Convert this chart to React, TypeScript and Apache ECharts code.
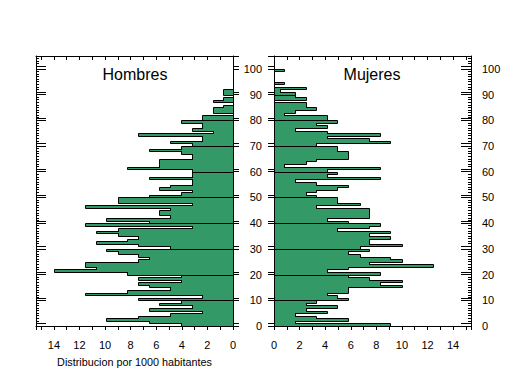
import React, { useEffect, useRef } from 'react';
import * as echarts from 'echarts';

// Edades 0..100
const edades: number[] = [
  0, 1, 2, 3, 4, 5, 6, 7, 8, 9,
  10, 11, 12, 13, 14, 15, 16, 17, 18, 19,
  20, 21, 22, 23, 24, 25, 26, 27, 28, 29,
  30, 31, 32, 33, 34, 35, 36, 37, 38, 39,
  40, 41, 42, 43, 44, 45, 46, 47, 48, 49,
  50, 51, 52, 53, 54, 55, 56, 57, 58, 59,
  60, 61, 62, 63, 64, 65, 66, 67, 68, 69,
  70, 71, 72, 73, 74, 75, 76, 77, 78, 79,
  80, 81, 82, 83, 84, 85, 86, 87, 88, 89,
  90, 91, 92, 93, 94, 95, 96, 97, 98, 99,
  100,
];

// Distribucion por 1000 habitantes - Hombres (por edad)
const hombres: number[] = [
  4.1, 6.6, 9.9, 7.4, 4.9, 2.4, 6.6, 3.2, 5.75, 4.1,
  7.4, 2.4, 11.6, 8.25, 4.9, 6.6, 7.4, 4.1, 7.4, 4.1,
  8.25, 14.0, 10.7, 11.6, 11.6, 7.4, 6.6, 7.4, 9.0, 9.9,
  4.9, 7.4, 10.7, 8.25, 7.4, 9.0, 10.7, 9.0, 3.2, 11.6,
  6.6, 9.9, 4.9, 5.75, 5.75, 4.9, 11.6, 3.2, 9.0, 9.0,
  6.6, 4.1, 3.2, 5.75, 4.9, 3.2, 3.2, 6.6, 3.2, 3.2,
  3.2, 8.25, 5.75, 5.75, 5.75, 3.2, 3.2, 4.1, 6.6, 4.1,
  3.2, 4.9, 2.4, 2.4, 7.4, 1.6, 3.2, 2.4, 2.4, 4.1,
  2.4, 2.4, 0, 1.6, 1.6, 0.75, 0, 1.6, 0.75, 0,
  0.75, 0.75, 0, 0, 0, 0, 0, 0, 0, 0,
  0,
];

// Distribucion por 1000 habitantes - Mujeres (por edad)
const mujeres: number[] = [
  9.1, 1.64, 5.8, 3.3, 1.64, 4.17, 2.47, 4.95, 2.47, 3.3,
  5.8, 4.95, 4.17, 5.8, 5.8, 10.0, 8.3, 10.0, 7.4, 5.8,
  8.3, 4.17, 5.8, 12.45, 7.4, 10.0, 9.1, 6.7, 5.8, 7.4,
  6.7, 10.0, 7.4, 7.4, 9.1, 7.4, 9.1, 4.95, 7.4, 8.3,
  5.8, 4.17, 7.4, 7.4, 7.4, 7.4, 3.3, 6.7, 4.95, 4.95,
  3.3, 2.47, 3.3, 4.95, 5.8, 3.3, 1.64, 8.3, 4.17, 4.95,
  4.17, 8.3, 0.8, 2.47, 3.3, 5.8, 5.8, 5.8, 4.95, 4.95,
  3.3, 9.1, 7.4, 4.17, 8.3, 4.17, 1.64, 4.17, 3.3, 4.95,
  4.17, 4.17, 0.8, 1.64, 3.3, 2.47, 2.47, 0, 2.47, 1.64,
  1.64, 0.5, 2.47, 0, 0.8, 0, 0, 0, 0, 0.8,
  0,
];

// Marcas decenales del eje de edad
const decadas: number[] = [0, 10, 20, 30, 40, 50, 60, 70, 80, 90, 100];

const titulos = ['Hombres', 'Mujeres'];
const nombreEje = 'Distribucion por 1000 habitantes';

const GREEN = '#339966';
const FONT = '"Liberation Sans", Arial, Helvetica, sans-serif';

const XMAX = 15.4;
const YMAX = 105;

function barRender(params: any, api: any) {
  const a = api.value(0);
  const v = api.value(1);
  if (!v) return null;
  const p0 = api.coord([0, a]);
  const p1 = api.coord([v, a + 1]);
  const L = Math.round(Math.min(p0[0], p1[0]));
  const R = Math.round(Math.max(p0[0], p1[0]));
  const T = Math.round(Math.min(p0[1], p1[1]));
  const B = Math.round(Math.max(p0[1], p1[1]));
  return {
    type: 'rect',
    shape: { x: L + 0.5, y: T + 0.5, width: R - L, height: B - T },
    style: { fill: GREEN, stroke: '#000', lineWidth: 1 },
  };
}

function coverRender(params: any, api: any) {
  const a = api.value(0);
  const v = api.value(1);
  if (!v) return null;
  const p0 = api.coord([0, a + 0.5]);
  const p1 = api.coord([v, a + 1.5]);
  const L = Math.round(Math.min(p0[0], p1[0]));
  const R = Math.round(Math.max(p0[0], p1[0]));
  const T = Math.round(Math.min(p0[1], p1[1]));
  const B = Math.round(Math.max(p0[1], p1[1]));
  if (R - L - 1 <= 0) return null;
  return {
    type: 'rect',
    shape: { x: L + 1, y: T, width: R - L - 1, height: B - T },
    style: { fill: GREEN },
  };
}

function makeTickRender(leftLen: number, rightLen: number) {
  // leftLen: signed length from the left edge (positive = inward), rightLen: signed from right edge (positive = outward)
  return (params: any, api: any) => {
    const d = api.value(0);
    const pa = api.coord([0, d + 1]);
    const pb = api.coord([XMAX, d + 1]);
    const xl = Math.round(Math.min(pa[0], pb[0]));
    const xr = Math.round(Math.max(pa[0], pb[0]));
    const y = Math.round(pa[1]) + 0.5;
    const style = { stroke: '#000', lineWidth: 1 };
    return {
      type: 'group',
      children: [
        { type: 'line', shape: { x1: xl, y1: y, x2: xl + leftLen, y2: y }, style },
        { type: 'line', shape: { x1: xr, y1: y, x2: xr + rightLen, y2: y }, style },
      ],
    };
  };
}

function covers(values: number[]) {
  const out: number[][] = [];
  for (let i = 0; i < values.length - 1; i++) {
    if ((edades[i] + 1) % 10 === 0) continue;
    out.push([edades[i], Math.min(values[i], values[i + 1])]);
  }
  return out;
}

function xAxisBase(grid: number, inverse: boolean, top: boolean, extra: any = {}) {
  return {
    type: 'value',
    gridIndex: grid,
    position: top ? 'top' : 'bottom',
    min: 0,
    max: XMAX,
    interval: 1,
    inverse,
    axisLine: { show: true, onZero: false, lineStyle: { color: '#000', width: 1 } },
    axisTick: { show: true, inside: top, length: 4, lineStyle: { color: '#000' } },
    axisLabel: top
      ? { show: false }
      : {
          show: true,
          color: '#000',
          fontSize: 11,
          fontFamily: FONT,
          margin: 13,
          formatter: (val: number) => (val % 2 === 0 ? String(val) : ''),
        },
    splitLine: { show: false },
    ...extra,
  };
}

function yAxisBase(grid: number, pos: 'left' | 'right', interval: number, inside: boolean, length: number, labels: boolean, line: boolean, margin = 12) {
  return {
    type: 'value',
    gridIndex: grid,
    position: pos,
    min: 0,
    max: YMAX,
    interval,
    axisLine: { show: line, onZero: false, lineStyle: { color: '#000', width: 1 } },
    axisTick: { show: true, inside, length, lineStyle: { color: '#000' } },
    axisLabel: labels
      ? {
          show: true,
          color: '#000',
          fontSize: 11,
          fontFamily: FONT,
          margin,
          formatter: (val: number) => (val % 10 === 0 && val <= 100 ? String(val) : ''),
        }
      : { show: false },
    splitLine: { show: false },
  };
}

export default function App() {
  const ref = useRef<HTMLDivElement>(null);
  useEffect(() => {
    if (!ref.current) return;
    const chart = echarts.init(ref.current, undefined, { renderer: 'svg' });
    const option: any = {
      animation: false,
      backgroundColor: '#fff',
      grid: [
        { left: 36, top: 56, width: 197, height: 270 },
        { left: 274, top: 56, width: 197, height: 270 },
      ],
      xAxis: [
        xAxisBase(0, true, false, {
          name: nombreEje,
          nameLocation: 'middle',
          nameGap: 30,
          nameTextStyle: { color: '#000', fontSize: 10.8, fontFamily: FONT },
        }),
        xAxisBase(0, true, true),
        xAxisBase(1, false, false),
        xAxisBase(1, false, true),
      ],
      yAxis: [
        yAxisBase(0, 'left', 10, true, 10, false, true),
        yAxisBase(0, 'left', 1, true, 3, false, false),
        yAxisBase(0, 'right', 10, false, 6, false, true),
        yAxisBase(1, 'left', 10, false, 6, true, true, 12),
        yAxisBase(1, 'right', 10, true, 10, true, true, 11),
        yAxisBase(1, 'right', 1, true, 3, false, false),
      ],
      graphic: [
        {
          type: 'text',
          x: 135,
          y: 66,
          z: 10,
          style: { text: titulos[0], fontSize: 16, fontFamily: FONT, fill: '#000', align: 'center', textAlign: 'center', verticalAlign: 'top' },
        },
        {
          type: 'text',
          x: 372,
          y: 66,
          z: 10,
          style: { text: titulos[1], fontSize: 16, fontFamily: FONT, fill: '#000', align: 'center', textAlign: 'center', verticalAlign: 'top' },
        },
      ],
      series: [
        {
          type: 'custom',
          name: titulos[0],
          xAxisIndex: 0,
          yAxisIndex: 0,
          z: 2,
          renderItem: barRender,
          data: hombres.map((v, i) => [edades[i], v]),
        },
        {
          type: 'custom',
          xAxisIndex: 0,
          yAxisIndex: 0,
          z: 3,
          renderItem: coverRender,
          data: covers(hombres),
        },
        {
          type: 'custom',
          xAxisIndex: 0,
          yAxisIndex: 0,
          z: 4,
          clip: false,
          renderItem: makeTickRender(10, 6),
          data: decadas.map((d) => [d]),
        },
        {
          type: 'custom',
          name: titulos[1],
          xAxisIndex: 2,
          yAxisIndex: 3,
          z: 2,
          renderItem: barRender,
          data: mujeres.map((v, i) => [edades[i], v]),
        },
        {
          type: 'custom',
          xAxisIndex: 2,
          yAxisIndex: 3,
          z: 3,
          renderItem: coverRender,
          data: covers(mujeres),
        },
        {
          type: 'custom',
          xAxisIndex: 2,
          yAxisIndex: 3,
          z: 4,
          clip: false,
          renderItem: makeTickRender(-6, -10),
          data: decadas.map((d) => [d]),
        },
      ],
    };
    chart.setOption(option);
    return () => chart.dispose();
  }, []);
  return (
    <div
      ref={ref}
      style={{ position: 'fixed', left: 0, top: 0, width: 509, height: 376, background: '#fff' }}
    />
  );
}
